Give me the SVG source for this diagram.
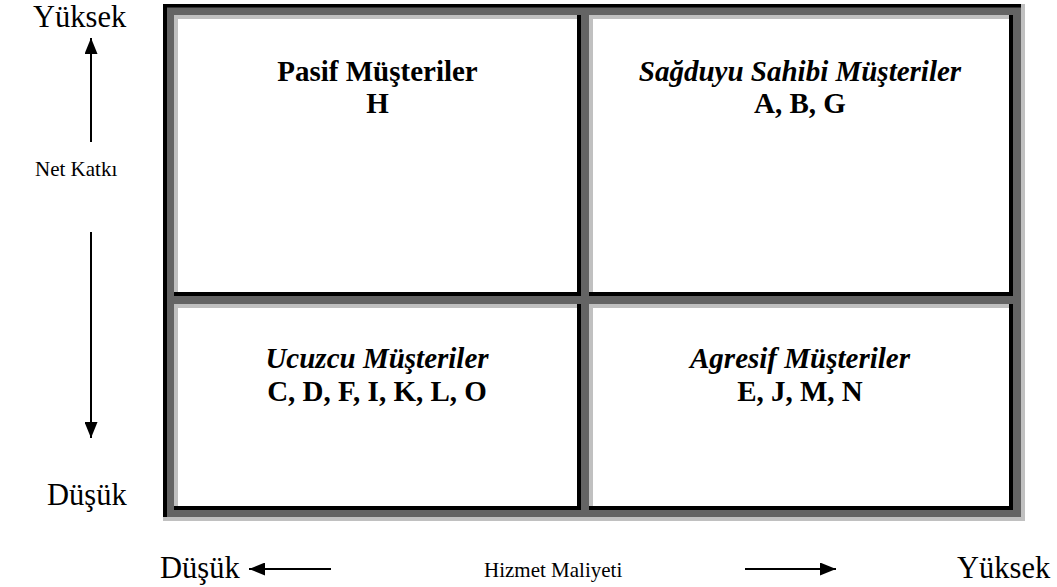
<svg xmlns="http://www.w3.org/2000/svg" width="1057" height="587" viewBox="0 0 1057 587">
<style>
.t{font-family:"Liberation Serif","DejaVu Serif",serif;fill:#000}
.h{font-size:29px;font-weight:700;text-anchor:middle}
.i{font-style:italic}
.ax{font-size:30.5px}
.lb{font-size:21px}
.blk{fill:#000}
.lt{fill:#c0c0c0}
.wh{fill:#fff}
.ln{stroke:#000;stroke-width:2;fill:none}
</style>
<defs>
<marker id="ah2" viewBox="0 0 16 13" refX="16" refY="6.5" markerWidth="16" markerHeight="13" markerUnits="userSpaceOnUse" orient="auto">
<path d="M0,0 L16,6.5 L0,13 Z" fill="#000"/>
</marker>
</defs>
<rect width="1057" height="587" fill="#fff"/>
<g id="frame">
<rect x="163" y="4" width="862" height="517" fill="#646464"/>
<rect class="blk" x="163" y="4" width="858" height="3.5"/>
<rect class="blk" x="163" y="4" width="4" height="513"/>
<rect class="lt" x="1021" y="4" width="4" height="517"/>
<rect class="lt" x="163" y="517" width="862" height="4"/>
</g>
<g id="pasif">
<rect class="blk" x="174" y="15" width="407" height="281"/>
<rect class="lt" x="174" y="15" width="403" height="277"/>
<rect class="wh" x="178" y="19" width="399" height="273"/>
<text class="t h" x="377.5" y="81">Pasif Müşteriler</text>
<text class="t h" x="377.5" y="113">H</text>
</g>
<g id="sagduyu">
<rect class="blk" x="589" y="15" width="424" height="281"/>
<rect class="lt" x="589" y="15" width="420" height="277"/>
<rect class="wh" x="593" y="19" width="416" height="273"/>
<text class="t h i" x="800" y="81">Sağduyu Sahibi Müşteriler</text>
<text class="t h" x="800" y="113">A, B, G</text>
</g>
<g id="ucuzcu">
<rect class="blk" x="174" y="304" width="407" height="206"/>
<rect class="lt" x="174" y="304" width="403" height="202"/>
<rect class="wh" x="178" y="308" width="399" height="198"/>
<text class="t h i" x="377" y="368">Ucuzcu Müşteriler</text>
<text class="t h" x="377" y="401">C, D, F, I, K, L, O</text>
</g>
<g id="agresif">
<rect class="blk" x="589" y="304" width="424" height="206"/>
<rect class="lt" x="589" y="304" width="420" height="202"/>
<rect class="wh" x="593" y="308" width="416" height="198"/>
<text class="t h i" x="800" y="368">Agresif Müşteriler</text>
<text class="t h" x="800" y="401">E, J, M, N</text>
</g>
<g id="axis-labels">
<text class="t ax" x="33" y="27">Yüksek</text>
<text class="t lb" x="35" y="176">Net Katkı</text>
<text class="t ax" x="47" y="505">Düşük</text>
<text class="t ax" x="160" y="578">Düşük</text>
<text class="t lb" x="484" y="577">Hizmet Maliyeti</text>
<text class="t ax" x="957" y="578">Yüksek</text>
</g>
<g id="connectors">
<line class="ln" x1="91" y1="142" x2="91" y2="38" marker-end="url(#ah2)"/>
<line class="ln" x1="91" y1="232" x2="91" y2="438" marker-end="url(#ah2)"/>
<line class="ln" x1="331" y1="569" x2="249" y2="569" marker-end="url(#ah2)"/>
<line class="ln" x1="745" y1="569" x2="836" y2="569" marker-end="url(#ah2)"/>
</g>
</svg>
